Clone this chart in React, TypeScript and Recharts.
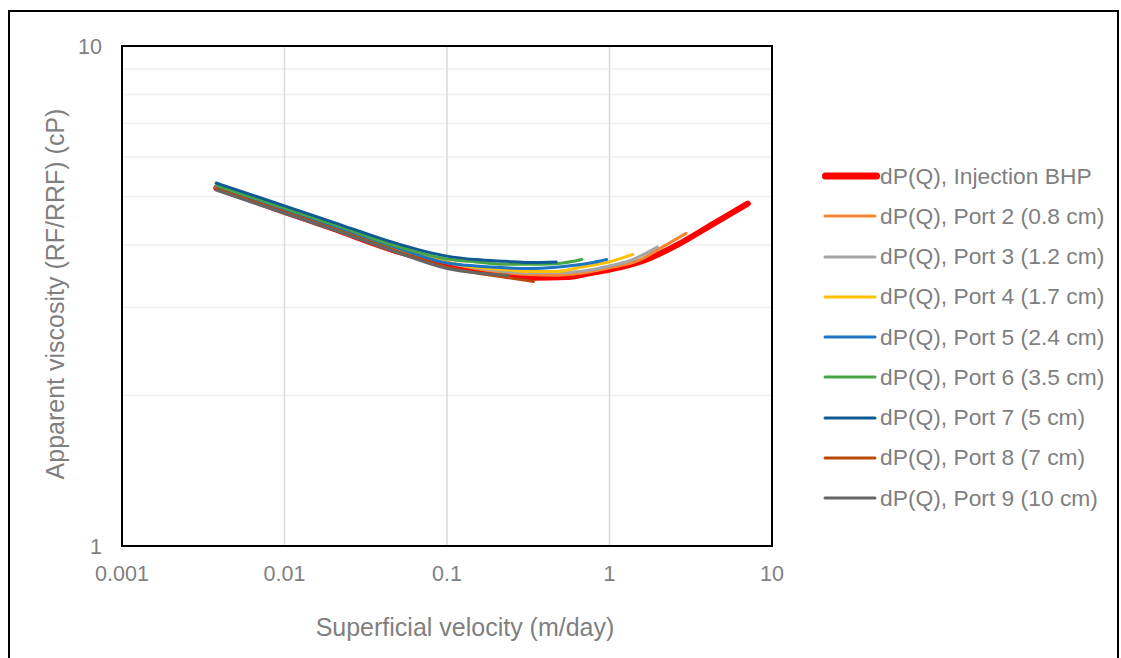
import React from "react";
import { LineChart, Line, XAxis, YAxis, ReferenceLine, Label } from "recharts";

const seriesNames = [
  "dP(Q), Injection BHP",
  "dP(Q), Port 2 (0.8 cm)",
  "dP(Q), Port 3 (1.2 cm)",
  "dP(Q), Port 4 (1.7 cm)",
  "dP(Q), Port 5 (2.4 cm)",
  "dP(Q), Port 6 (3.5 cm)",
  "dP(Q), Port 7 (5 cm)",
  "dP(Q), Port 8 (7 cm)",
  "dP(Q), Port 9 (10 cm)",
];
const seriesColors = ["#FF0000", "#F58634", "#A5A5A5", "#FFC000", "#1F74C4", "#46A646", "#0F5A92", "#B84A06", "#666666"];
const seriesWidths = [6, 3, 3, 3, 3, 3, 3, 3, 3];

const injX = [0.0038, 0.01, 0.02, 0.05, 0.1, 0.15, 0.2, 0.34, 0.54, 0.75, 1.0, 1.65, 2.72, 4.4, 7.1];
const injY = [5.2, 4.66, 4.31, 3.88, 3.66, 3.57, 3.51, 3.44, 3.45, 3.51, 3.57, 3.73, 4.03, 4.42, 4.84];
const p2X = [0.0038, 0.01, 0.02, 0.05, 0.1, 0.15, 0.23, 0.32, 0.47, 0.7, 1.0, 1.5, 2.0, 2.96];
const p2Y = [5.21, 4.69, 4.35, 3.93, 3.69, 3.59, 3.52, 3.49, 3.48, 3.52, 3.6, 3.72, 3.92, 4.22];
const p3X = [0.0038, 0.01, 0.02, 0.05, 0.1, 0.15, 0.23, 0.32, 0.47, 0.7, 1.0, 1.33, 1.97];
const p3Y = [5.21, 4.69, 4.35, 3.93, 3.69, 3.6, 3.54, 3.52, 3.52, 3.55, 3.63, 3.72, 3.96];
const p4X = [0.0038, 0.01, 0.02, 0.05, 0.1, 0.15, 0.23, 0.32, 0.47, 0.66, 1.0, 1.39];
const p4Y = [5.21, 4.69, 4.35, 3.93, 3.69, 3.61, 3.57, 3.54, 3.54, 3.61, 3.7, 3.83];
const p5X = [0.0038, 0.01, 0.02, 0.05, 0.1, 0.15, 0.23, 0.32, 0.47, 0.76, 0.96];
const p5Y = [5.24, 4.71, 4.37, 3.94, 3.68, 3.63, 3.6, 3.59, 3.61, 3.68, 3.74];
const p6X = [0.0038, 0.01, 0.02, 0.05, 0.1, 0.15, 0.23, 0.32, 0.47, 0.675];
const p6Y = [5.26, 4.74, 4.4, 3.97, 3.75, 3.7, 3.66, 3.66, 3.67, 3.74];
const p7X = [0.0038, 0.01, 0.02, 0.05, 0.1, 0.15, 0.23, 0.32, 0.47];
const p7Y = [5.32, 4.79, 4.44, 4.02, 3.8, 3.74, 3.71, 3.69, 3.7];
const p8X = [0.0038, 0.01, 0.02, 0.05, 0.1, 0.15, 0.24, 0.34];
const p8Y = [5.18, 4.66, 4.31, 3.88, 3.61, 3.52, 3.44, 3.38];
const p9X = [0.0038, 0.01, 0.02, 0.05, 0.1, 0.15, 0.2, 0.237];
const p9Y = [5.15, 4.63, 4.29, 3.86, 3.59, 3.52, 3.49, 3.48];

const xTicks = [0.001, 0.01, 0.1, 1, 10];
const yTicks = [1, 10];
const yMinorGrid = [2, 3, 4, 5, 6, 7, 8, 9];
const xMajorGrid = [0.01, 0.1, 1];

const allX = [injX, p2X, p3X, p4X, p5X, p6X, p7X, p8X, p9X];
const allY = [injY, p2Y, p3Y, p4Y, p5Y, p6Y, p7Y, p8Y, p9Y];
const seriesData = allX.map((xs, i) => xs.map((x, j) => ({ x, y: allY[i][j] })));

const FONT = '"Liberation Sans", Arial, sans-serif';
const TEXT = "#7F7F7F";

function LegendBox() {
  return (
    <div style={{ position: "absolute", left: 820, top: 156, width: 300, fontFamily: FONT }}>
      {seriesNames.map((name, i) => (
        <div key={name} style={{ display: "flex", alignItems: "center", height: 40.25 }}>
          <svg width={60} height={12} style={{ display: "block" }}>
            <line
              x1={seriesWidths[i] === 6 ? 5.5 : 5}
              y1={6}
              x2={seriesWidths[i] === 6 ? 56.5 : 55}
              y2={6}
              stroke={seriesColors[i]}
              strokeWidth={seriesWidths[i] === 6 ? 7 : 3}
              strokeLinecap="round"
            />
          </svg>
          <span style={{ fontSize: 22.8, color: TEXT, whiteSpace: "nowrap" }}>{name}</span>
        </div>
      ))}
    </div>
  );
}

export default function App() {
  return (
    <div style={{ position: "absolute", left: 0, top: 0, width: 1121, height: 658, background: "#fff", overflow: "hidden" }}>
      <div
        style={{
          position: "absolute",
          left: 8,
          top: 10,
          width: 1111,
          height: 700,
          border: "2px solid #000",
          boxSizing: "border-box",
        }}
      />
      <div style={{ position: "absolute", left: 0, top: 0 }}>
        <LineChart width={1121} height={658} margin={{ top: 46, right: 349, bottom: 52, left: 22 }}>
          <XAxis
            dataKey="x"
            type="number"
            scale="log"
            domain={[0.001, 10]}
            ticks={xTicks}
            interval={0}
            allowDataOverflow
            height={60}
            axisLine={false}
            tickLine={false}
            tickSize={0}
            tickMargin={20}
            tick={{ fill: TEXT, fontSize: 21.5, fontFamily: FONT }}
          >
            <Label
              content={() => (
                <text x={465} y={636} textAnchor="middle" fill={TEXT} fontSize={25} fontFamily={FONT}>
                  Superficial velocity (m/day)
                </text>
              )}
            />
          </XAxis>
          <YAxis
            dataKey="y"
            type="number"
            scale="log"
            domain={[1, 10]}
            ticks={yTicks}
            interval={0}
            allowDataOverflow
            width={100}
            axisLine={false}
            tickLine={false}
            tickSize={0}
            tickMargin={20}
            tick={{ fill: TEXT, fontSize: 21.5, fontFamily: FONT }}
          >
            <Label
              content={() => (
                <text
                  x={64}
                  y={294}
                  textAnchor="middle"
                  fill={TEXT}
                  fontSize={25}
                  fontFamily={FONT}
                  transform="rotate(-90 64 294)"
                >
                  Apparent viscosity (RF/RRF) (cP)
                </text>
              )}
            />
          </YAxis>
          {yMinorGrid.map((v) => (
            <ReferenceLine key={"h" + v} y={v} stroke="#EFEFEF" strokeWidth={1.5} />
          ))}
          {xMajorGrid.map((v) => (
            <ReferenceLine key={"v" + v} x={v} stroke="#D9D9D9" strokeWidth={1.5} />
          ))}
          {seriesData.map((d, i) => (
            <Line
              key={seriesNames[i]}
              data={d}
              dataKey="y"
              name={seriesNames[i]}
              type="monotone"
              stroke={seriesColors[i]}
              strokeWidth={seriesWidths[i]}
              strokeLinecap="round"
              dot={false}
              activeDot={false}
              isAnimationActive={false}
            />
          ))}
        </LineChart>
      </div>
      <div
        style={{
          position: "absolute",
          left: 121,
          top: 45,
          width: 652,
          height: 502,
          border: "2px solid #000",
          boxSizing: "border-box",
          pointerEvents: "none",
        }}
      />
      <LegendBox />
    </div>
  );
}
